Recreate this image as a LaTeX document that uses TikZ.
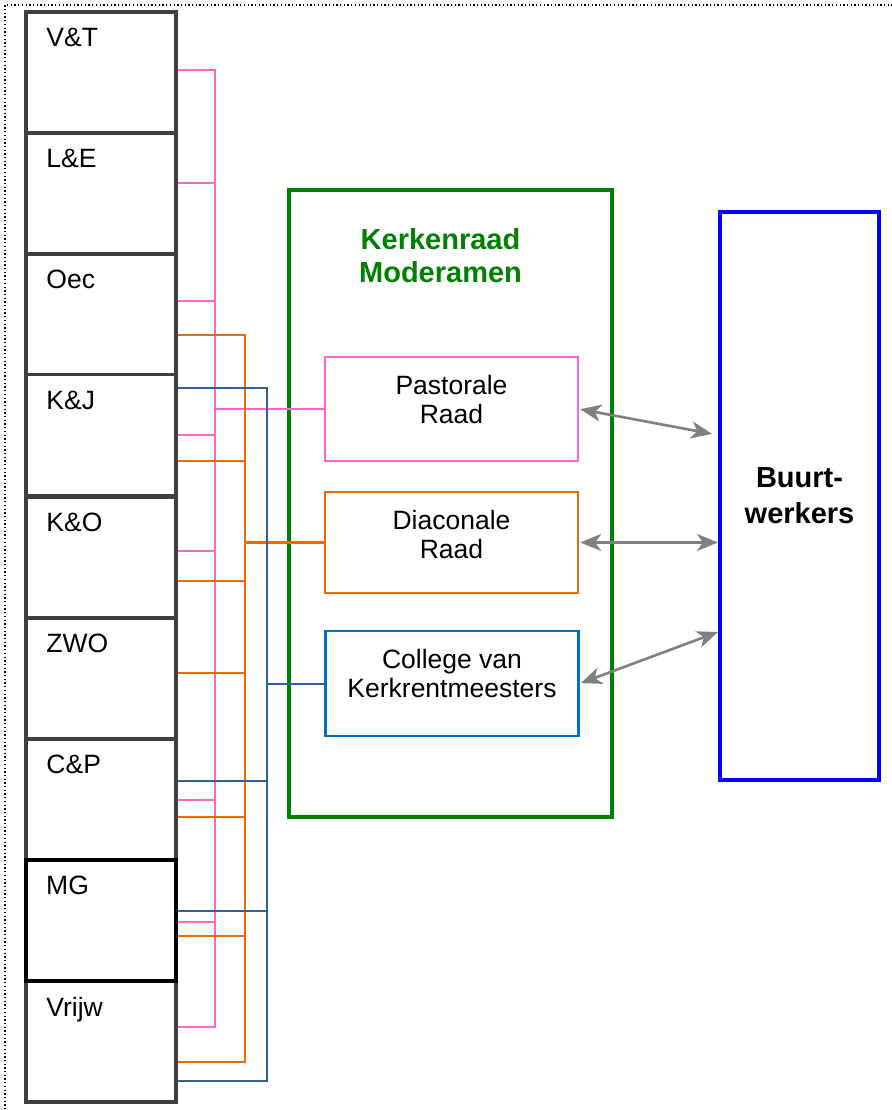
\documentclass[tikz,border=0pt]{standalone}
\usepackage{fontspec}
\setmainfont{Liberation Sans}
\usetikzlibrary{arrows.meta}

\definecolor{boxgray}{HTML}{404040}
\definecolor{pinkc}{HTML}{FF66CC}
\definecolor{orangec}{HTML}{E46C0A}
\definecolor{linkblue}{HTML}{376092}
\definecolor{collblue}{HTML}{0070C0}
\definecolor{kgreen}{HTML}{008000}
\definecolor{buurtblue}{HTML}{0000FF}
\definecolor{arrowgray}{HTML}{808080}

\tikzset{
  tag/.style = {anchor=north west, inner sep=0pt, xshift=22pt, yshift=-18pt,
    font=\fontsize{26.5}{30}\selectfont},
  unit/.style = {draw=boxgray, line width=3.5pt, minimum width=150pt,
    minimum height=121pt, inner sep=0pt, label={[tag]north west:#1}},
  capt/.style = {anchor=north, inner sep=0pt, yshift=-19pt, align=center,
    font=\fontsize{26.5}{29.5}\selectfont},
  council/.style = {draw=#1, line width=2.4pt, minimum width=253pt,
    minimum height=104pt, inner sep=0pt},
  pinkline/.style = {draw=pinkc, line width=2.2pt},
  orangeline/.style = {draw=orangec, line width=2.4pt},
  blueline/.style = {draw=linkblue, line width=2pt},
  link/.style = {draw=arrowgray, line width=2.6pt,
    {Stealth[length=21pt,width=17pt,inset=6pt]}-{Stealth[length=21pt,width=17pt,inset=6pt]}},
}

\begin{document}
\begin{tikzpicture}[x=1pt, y=-1pt]
\useasboundingbox (0,0) rectangle (891,1110);

% werkgroepen links
\node[unit={V\&T}] (vt) at (101,72.5) {};
\node[unit={L\&E}] (le) at (101,193.5) {};
\node[unit={Oec}] (oec) at (101,314) {};
\node[unit={K\&J}] (kj) at (101,435) {};
\node[unit={K\&O}] (ko) at (101,557.5) {};
\node[unit={ZWO}] (zwo) at (101,678.5) {};
\node[unit={C\&P}] (cp) at (101,799.5) {};
\node[unit={Vrijw}] (vw) at (101,1041.5) {};
\node[unit={MG}, draw=black, line width=4pt] (mg) at (101,920.5) {};

% kerkenraad
\node[draw=kgreen, line width=3.5pt, minimum width=323pt, minimum height=627pt,
  label={[capt, xshift=-10pt, yshift=-21pt, text=kgreen,
    font=\bfseries\fontsize{29}{33}\selectfont]north:Kerkenraad\\Moderamen}]
  (kr) at (450.5,503.5) {};
\node[council=pinkc, label={[capt]north:Pastorale\\Raad}] (pr) at (451.5,409) {};
\node[council=orangec, minimum height=101pt, label={[capt]north:Diaconale\\Raad}] (dr) at (451.5,542.5) {};
\node[council=collblue, minimum height=105pt, label={[capt]north:College van\\Kerkrentmeesters}] (cv) at (452,683.5) {};

% buurtwerkers
\node[draw=buurtblue, line width=4pt, minimum width=159pt, minimum height=568pt,
  align=center, font=\bfseries\fontsize{29}{36}\selectfont] (bw) at (799.5,496) {Buurt-\\werkers};

% verbindingen
\coordinate (pj) at ([xshift=-109pt]pr.west);
\coordinate (oj) at ([xshift=-79pt]dr.west);
\coordinate (bj) at ([xshift=-57pt]cv.west);

\draw[pinkline] (vt.east |- 0,70) -| (pj);
\draw[pinkline] (le.east |- 0,183) -| (pj);
\draw[pinkline] (oec.east |- 0,301) -| (pj);
\draw[pinkline] (kj.east |- 0,435) -| (pj);
\draw[pinkline] (ko.east |- 0,551) -| (pj);
\draw[pinkline] (cp.east |- 0,800) -| (pj);
\draw[pinkline] (mg.east |- 0,922) -| (pj);
\draw[pinkline] (vw.east |- 0,1027) -| (pj);
\draw[pinkline] (pj) -- (pr.west);

\draw[orangeline] (oec.east |- 0,335) -| (oj);
\draw[orangeline] (kj.east |- 0,461) -| (oj);
\draw[orangeline] (ko.east |- 0,581) -| (oj);
\draw[orangeline] (zwo.east |- 0,673) -| (oj);
\draw[orangeline] (cp.east |- 0,817) -| (oj);
\draw[orangeline] (mg.east |- 0,936) -| (oj);
\draw[orangeline] (vw.east |- 0,1062) -| (oj);
\draw[orangeline] (oj) -- (dr.west);

\draw[blueline] (kj.east |- 0,388) -| (bj);
\draw[blueline] (cp.east |- 0,781) -| (bj);
\draw[blueline] (mg.east |- 0,911) -| (bj);
\draw[blueline] (vw.east |- 0,1081) -| (bj);
\draw[blueline] (bj) -- (cv.west);

% pijlen naar buurtwerkers
\draw[link, shorten <=1pt, shorten >=6pt] (pr.east) -- (bw.west |- 0,435);
\draw[link, shorten <=1pt] (dr.east) -- (bw.west |- dr.east);
\draw[link, shorten <=1pt] (cv.east) -- (bw.west |- 0,632);

% kader
\draw[line width=1.3pt, dash pattern=on 1.3pt off 2.4pt] (900,5) -- (5,5) -- (5,1120);
\end{tikzpicture}
\end{document}
